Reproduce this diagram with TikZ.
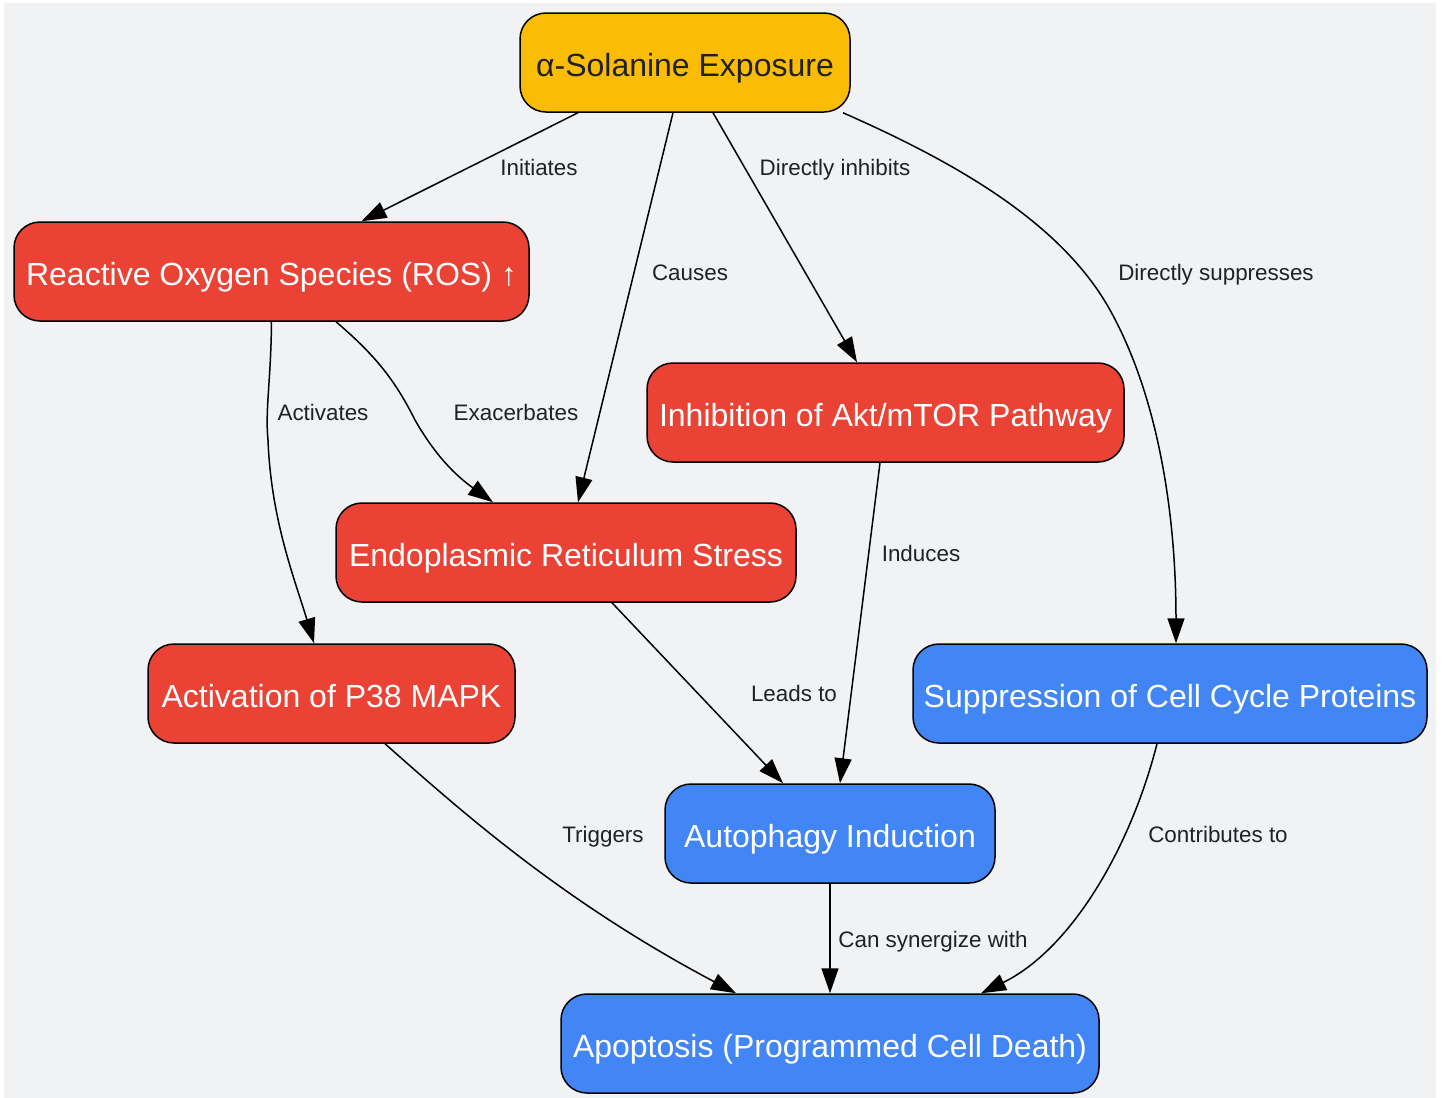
\documentclass[tikz,border=0pt]{standalone}
\usepackage{fontspec}
\setmainfont{Liberation Sans}
\usetikzlibrary{arrows.meta}
\definecolor{bggray}{HTML}{F1F2F4}
\definecolor{gyellow}{HTML}{FBBC05}
\definecolor{gred}{HTML}{EA4335}
\definecolor{gblue}{HTML}{4285F4}
\definecolor{darktext}{HTML}{202124}
\tikzset{
  box/.style={draw=black, line width=1.5pt, rounded corners=26pt, minimum height=99pt,
    inner xsep=10pt, text height=29pt, text depth=2pt, text=white,
    font=\fontsize{32}{38}\selectfont},
  lbl/.style={text=darktext, font=\fontsize{22.4}{26}\selectfont, inner sep=0pt,
    text height=17pt, text depth=1pt},
  link/.style={-{Triangle[length=25pt,width=17pt]}, line width=1.5pt}
}
\begin{document}
\begin{tikzpicture}[x=1pt,y=-1pt]
      \useasboundingbox (0,0) rectangle (1444,1098);
      \fill[white] (0,0) rectangle (1444,1098);
      \fill[bggray] (4,3) rectangle (1436,1098);
      \draw
        (685,62.5) node[box,fill=gyellow,text=darktext,minimum width=330pt] (exp){α-Solanine Exposure}
        (271.5,271.5) node[box,fill=gred,minimum width=515pt] (ros){Reactive Oxygen Species (ROS) ↑}
        (885.5,412.5) node[box,fill=gred,minimum width=477pt] (akt){Inhibition of Akt/mTOR Pathway}
        (566,552.5) node[box,fill=gred,minimum width=460pt] (er){Endoplasmic Reticulum Stress}
        (331.5,693.5) node[box,fill=gred,minimum width=367pt] (p38){Activation of P38 MAPK}
        (1170,693.5) node[box,fill=gblue,minimum width=514pt] (cyc){Suppression of Cell Cycle Proteins}
        (830,833.5) node[box,fill=gblue,minimum width=330pt] (auto){Autophagy Induction}
        (830,1043.5) node[box,fill=gblue,minimum width=538pt] (apo){Apoptosis (Programmed Cell Death)};
      \begin{scope}[link]
        \draw ([xshift=-107pt]exp.south) -- ([xshift=90pt]ros.north)
          node[lbl] at (539,167) {Initiates};
        \draw ([xshift=-12pt]exp.south) -- ([xshift=12pt]er.north)
          node[lbl] at (690,272) {Causes};
        \draw ([xshift=28pt]exp.south) -- ([xshift=-28.5pt]akt.north)
          node[lbl] at (835,167) {Directly inhibits};
        \draw ([xshift=158pt]exp.south) .. controls (950,160) and (1060,220) .. (1110,310)
          .. controls (1160,400) and (1176,520) .. ([xshift=6pt]cyc.north)
          node[lbl] at (1216,272) {Directly suppresses};
        \draw (ros.south) .. controls (271,380) and (265,410) .. (268,440)
          .. controls (271,520) and (295,580) .. ([xshift=-17.5pt]p38.north)
          node[lbl] at (323,412) {Activates};
        \draw ([xshift=64.5pt]ros.south) .. controls (375,355) and (395,380) .. (415,420)
          .. controls (435,455) and (455,475) .. ([xshift=-73pt]er.north)
          node[lbl] at (516,412) {Exacerbates};
        \draw ([xshift=-5.5pt]akt.south) -- ([xshift=10pt]auto.north)
          node[lbl] at (921,553) {Induces};
        \draw ([xshift=46pt]er.south) -- ([xshift=-47pt]auto.north)
          node[lbl] at (794,693) {Leads to};
        \draw ([xshift=53.5pt]p38.south) .. controls (460,810) and (560,900) .. ([xshift=-94pt]apo.north)
          node[lbl] at (603,834) {Triggers};
        \draw (auto.south) -- (apo.north)
          node[lbl] at (933,939) {Can synergize with};
        \draw ([xshift=-13pt]cyc.south) .. controls (1130,850) and (1070,950) .. ([xshift=151pt]apo.north)
          node[lbl] at (1218,834) {Contributes to};
      \end{scope}
    \end{tikzpicture}
\end{document}
